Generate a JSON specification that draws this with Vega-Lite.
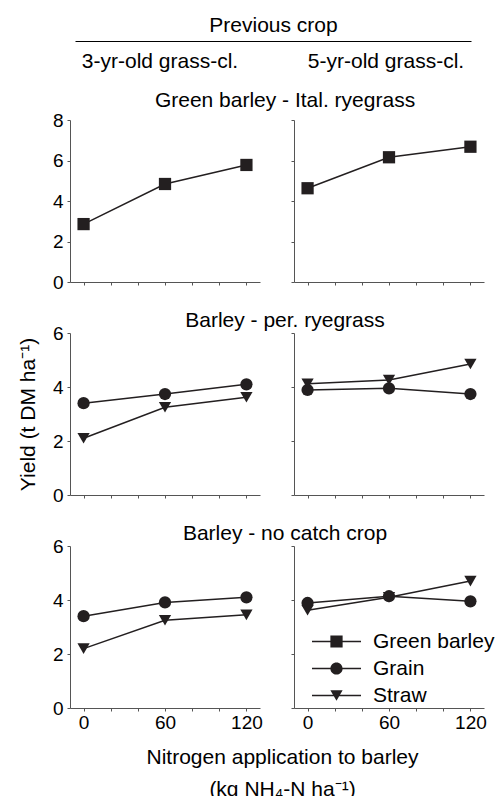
{
  "$schema": "https://vega.github.io/schema/vega-lite/v6.json",
  "autosize": {"type": "none"},
  "padding": {"left": 70, "top": 41, "right": 426, "bottom": 755},
  "data": {"values": [
    {"crop": "3yr", "sys": "GB", "series": "Green barley", "N": 0, "yield": 2.86},
    {"crop": "3yr", "sys": "GB", "series": "Green barley", "N": 60, "yield": 4.84},
    {"crop": "3yr", "sys": "GB", "series": "Green barley", "N": 120, "yield": 5.78},
    {"crop": "5yr", "sys": "GB", "series": "Green barley", "N": 0, "yield": 4.63},
    {"crop": "5yr", "sys": "GB", "series": "Green barley", "N": 60, "yield": 6.16},
    {"crop": "5yr", "sys": "GB", "series": "Green barley", "N": 120, "yield": 6.68},
    {"crop": "3yr", "sys": "PR", "series": "Grain", "N": 0, "yield": 3.40},
    {"crop": "3yr", "sys": "PR", "series": "Grain", "N": 60, "yield": 3.74},
    {"crop": "3yr", "sys": "PR", "series": "Grain", "N": 120, "yield": 4.10},
    {"crop": "3yr", "sys": "PR", "series": "Straw", "N": 0, "yield": 2.10},
    {"crop": "3yr", "sys": "PR", "series": "Straw", "N": 60, "yield": 3.25},
    {"crop": "3yr", "sys": "PR", "series": "Straw", "N": 120, "yield": 3.62},
    {"crop": "5yr", "sys": "PR", "series": "Grain", "N": 0, "yield": 3.89},
    {"crop": "5yr", "sys": "PR", "series": "Grain", "N": 60, "yield": 3.95},
    {"crop": "5yr", "sys": "PR", "series": "Grain", "N": 120, "yield": 3.74},
    {"crop": "5yr", "sys": "PR", "series": "Straw", "N": 0, "yield": 4.12},
    {"crop": "5yr", "sys": "PR", "series": "Straw", "N": 60, "yield": 4.26},
    {"crop": "5yr", "sys": "PR", "series": "Straw", "N": 120, "yield": 4.85},
    {"crop": "3yr", "sys": "NC", "series": "Grain", "N": 0, "yield": 3.40},
    {"crop": "3yr", "sys": "NC", "series": "Grain", "N": 60, "yield": 3.91},
    {"crop": "3yr", "sys": "NC", "series": "Grain", "N": 120, "yield": 4.10},
    {"crop": "3yr", "sys": "NC", "series": "Straw", "N": 0, "yield": 2.20},
    {"crop": "3yr", "sys": "NC", "series": "Straw", "N": 60, "yield": 3.25},
    {"crop": "3yr", "sys": "NC", "series": "Straw", "N": 120, "yield": 3.45},
    {"crop": "5yr", "sys": "NC", "series": "Grain", "N": 0, "yield": 3.89},
    {"crop": "5yr", "sys": "NC", "series": "Grain", "N": 60, "yield": 4.14},
    {"crop": "5yr", "sys": "NC", "series": "Grain", "N": 120, "yield": 3.95},
    {"crop": "5yr", "sys": "NC", "series": "Straw", "N": 0, "yield": 3.62},
    {"crop": "5yr", "sys": "NC", "series": "Straw", "N": 60, "yield": 4.10},
    {"crop": "5yr", "sys": "NC", "series": "Straw", "N": 120, "yield": 4.70}
  ]},
  "columns": 2,
  "bounds": "flush",
  "spacing": {"row": 51, "column": 34},
  "concat": [
    {
      "width": 190, "height": 28,
      "data": {"values": [{"col": "3-yr-old grass-cl."}]},
      "mark": {"type": "text", "fontSize": 21, "baseline": "alphabetic", "dy": 13},
      "encoding": {
        "x": {"field": "col", "type": "nominal",
          "scale": {"type": "point", "domain": ["3-yr-old grass-cl.", "5-yr-old grass-cl."], "range": [5, 401], "padding": 0.376},
          "axis": {"orient": "top", "title": "Previous crop", "labels": false, "ticks": false, "domainColor": "#000", "titlePadding": 10, "titleBaseline": "alphabetic"}},
        "text": {"field": "col"}
      }
    },
    {
      "width": 190, "height": 28,
      "data": {"values": [{"col": "5-yr-old grass-cl."}]},
      "mark": {"type": "text", "fontSize": 21, "baseline": "alphabetic", "dy": 13, "dx": -3},
      "encoding": {"text": {"field": "col"}}
    },
    {
      "width": 190, "height": 162,
      "transform": [{"filter": "datum.crop === '3yr' && datum.sys === 'GB'"}],
      "encoding": {
        "x": {"field": "N", "type": "quantitative", "scale": {"domain": [-10, 130], "nice": false, "zero": false}, "axis": {"values": [0, 20, 40, 60, 80, 100, 120], "labels": false, "title": null}},
        "y": {"field": "yield", "type": "quantitative", "scale": {"domain": [0, 8], "nice": false}, "axis": {"values": [0, 2, 4, 6, 8], "title": null}}
      },
      "layer": [
        {"mark": {"type": "line", "color": "#231f20", "strokeWidth": 1.5}, "encoding": {"detail": {"field": "series"}}},
        {"mark": {"type": "point", "filled": true, "opacity": 1, "color": "#231f20", "size": 150}, "encoding": {"shape": {"field": "series", "type": "nominal", "scale": {"domain": ["Green barley", "Grain", "Straw"], "range": ["square", "circle", "triangle-down"]}, "legend": null}}}
      ]
    },
    {
      "width": 190, "height": 162,
      "title": {"text": "Green barley - Ital. ryegrass", "anchor": "middle", "frame": "group", "dx": -104, "offset": -8, "baseline": "alphabetic"},
      "transform": [{"filter": "datum.crop === '5yr' && datum.sys === 'GB'"}],
      "encoding": {
        "x": {"field": "N", "type": "quantitative", "scale": {"domain": [-10, 130], "nice": false, "zero": false}, "axis": {"values": [0, 20, 40, 60, 80, 100, 120], "labels": false, "title": null}},
        "y": {"field": "yield", "type": "quantitative", "scale": {"domain": [0, 8], "nice": false}, "axis": {"values": [0, 2, 4, 6, 8], "labels": false, "title": null}}
      },
      "layer": [
        {"mark": {"type": "line", "color": "#231f20", "strokeWidth": 1.5}, "encoding": {"detail": {"field": "series"}}},
        {"mark": {"type": "point", "filled": true, "opacity": 1, "color": "#231f20", "size": 150}, "encoding": {"shape": {"field": "series", "type": "nominal", "scale": {"domain": ["Green barley", "Grain", "Straw"], "range": ["square", "circle", "triangle-down"]}, "legend": null}}}
      ]
    },
    {
      "width": 190, "height": 162,
      "transform": [{"filter": "datum.crop === '3yr' && datum.sys === 'PR'"}],
      "encoding": {
        "x": {"field": "N", "type": "quantitative", "scale": {"domain": [-10, 130], "nice": false, "zero": false}, "axis": {"values": [0, 20, 40, 60, 80, 100, 120], "labels": false, "title": null}},
        "y": {"field": "yield", "type": "quantitative", "scale": {"domain": [0, 6], "nice": false}, "axis": {"values": [0, 2, 4, 6], "title": "Yield (t DM ha⁻¹)", "titlePadding": 14}}
      },
      "layer": [
        {"mark": {"type": "line", "color": "#231f20", "strokeWidth": 1.5}, "encoding": {"detail": {"field": "series"}}},
        {"mark": {"type": "point", "filled": true, "opacity": 1, "color": "#231f20", "size": 150}, "encoding": {"shape": {"field": "series", "type": "nominal", "scale": {"domain": ["Green barley", "Grain", "Straw"], "range": ["square", "circle", "triangle-down"]}, "legend": null}}}
      ]
    },
    {
      "width": 190, "height": 162,
      "title": {"text": "Barley - per. ryegrass", "anchor": "middle", "frame": "group", "dx": -104, "offset": -15, "baseline": "alphabetic"},
      "transform": [{"filter": "datum.crop === '5yr' && datum.sys === 'PR'"}],
      "encoding": {
        "x": {"field": "N", "type": "quantitative", "scale": {"domain": [-10, 130], "nice": false, "zero": false}, "axis": {"values": [0, 20, 40, 60, 80, 100, 120], "labels": false, "title": null}},
        "y": {"field": "yield", "type": "quantitative", "scale": {"domain": [0, 6], "nice": false}, "axis": {"values": [0, 2, 4, 6], "labels": false, "title": null}}
      },
      "layer": [
        {"mark": {"type": "line", "color": "#231f20", "strokeWidth": 1.5}, "encoding": {"detail": {"field": "series"}}},
        {"mark": {"type": "point", "filled": true, "opacity": 1, "color": "#231f20", "size": 150}, "encoding": {"shape": {"field": "series", "type": "nominal", "scale": {"domain": ["Green barley", "Grain", "Straw"], "range": ["square", "circle", "triangle-down"]}, "legend": null}}}
      ]
    },
    {
      "width": 190, "height": 162,
      "transform": [{"filter": "datum.crop === '3yr' && datum.sys === 'NC'"}],
      "encoding": {
        "x": {"field": "N", "type": "quantitative", "scale": {"domain": [-10, 130], "nice": false, "zero": false}, "axis": {"values": [0, 20, 40, 60, 80, 100, 120], "labelExpr": "datum.value % 60 === 0 ? datum.label : ''", "title": ["Nitrogen application to barley", "(kg NH₄-N ha⁻¹)"], "titleX": 212, "titleY": 38, "titleBaseline": "top", "titleAlign": "center", "titleLineHeight": 32}},
        "y": {"field": "yield", "type": "quantitative", "scale": {"domain": [0, 6], "nice": false}, "axis": {"values": [0, 2, 4, 6], "title": null}}
      },
      "layer": [
        {"mark": {"type": "line", "color": "#231f20", "strokeWidth": 1.5}, "encoding": {"detail": {"field": "series"}}},
        {"mark": {"type": "point", "filled": true, "opacity": 1, "color": "#231f20", "size": 150}, "encoding": {"shape": {"field": "series", "type": "nominal", "scale": {"domain": ["Green barley", "Grain", "Straw"], "range": ["square", "circle", "triangle-down"]}, "legend": null}}}
      ]
    },
    {
      "width": 190, "height": 162,
      "title": {"text": "Barley - no catch crop", "anchor": "middle", "frame": "group", "dx": -104, "offset": -15, "baseline": "alphabetic"},
      "transform": [{"filter": "datum.crop === '5yr' && datum.sys === 'NC'"}],
      "encoding": {
        "x": {"field": "N", "type": "quantitative", "scale": {"domain": [-10, 130], "nice": false, "zero": false}, "axis": {"values": [0, 20, 40, 60, 80, 100, 120], "labelExpr": "datum.value % 60 === 0 ? datum.label : ''", "title": null}},
        "y": {"field": "yield", "type": "quantitative", "scale": {"domain": [0, 6], "nice": false}, "axis": {"values": [0, 2, 4, 6], "labels": false, "title": null}}
      },
      "layer": [
        {"mark": {"type": "line", "color": "#231f20", "strokeWidth": 1.5}, "encoding": {"detail": {"field": "series"}}},
        {"transform": [{"filter": "datum.series === 'Grain'"}], "mark": {"type": "point", "filled": true, "opacity": 1, "color": "#231f20", "size": 150, "shape": "circle"}},
        {"transform": [{"filter": "datum.series === 'Straw'"}], "mark": {"type": "point", "filled": true, "opacity": 1, "color": "#231f20", "size": 150, "shape": "triangle-down"}},
        {"transform": [{"filter": "false"}],
         "mark": {"type": "point", "filled": true, "opacity": 1, "color": "#231f20", "size": 150},
         "encoding": {"shape": {"field": "series", "type": "nominal",
           "scale": {"domain": ["Green barley", "Grain", "Straw"], "range": ["M-4,-0.12H4V0.12H-4ZM-1,-1H1V1H-1Z", "M-4,-0.12H4V0.12H-4ZM1,0A1,1,0,1,1,-1,0A1,1,0,1,1,1,0Z", "M-4,-0.12H4V0.12H-4ZM0,0.866L-1,-0.866L1,-0.866Z"]},
           "legend": {"orient": "none", "legendX": 32, "legendY": 85, "title": null, "padding": 0, "symbolSize": 150, "labelFontSize": 21, "labelColor": "#000", "labelOffset": 26, "rowPadding": 5}}}}
      ]
    }
  ],
  "resolve": {"scale": {"shape": "independent"}, "legend": {"shape": "independent"}},
  "config": {
    "font": "Liberation Sans",
    "view": {"stroke": null},
    "axis": {"grid": false, "domainColor": "#555", "tickColor": "#555", "tickSize": 3, "labelFontSize": 19, "labelColor": "#000", "labelPadding": 4, "titleFontSize": 21, "titleFontWeight": "normal", "titleColor": "#000"},
    "axisX": {"labelPadding": 2},
    "title": {"fontSize": 21, "fontWeight": "normal", "color": "#000"},
    "text": {"fontSize": 21, "color": "#000"}
  }
}
